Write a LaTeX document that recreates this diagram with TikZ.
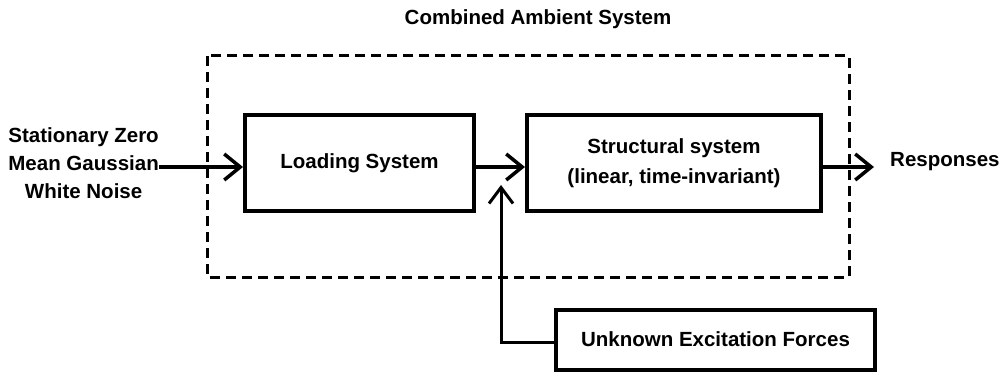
\documentclass[tikz,border=0pt]{standalone}
\usepackage{fontspec}
\setmainfont{Liberation Sans}
\usetikzlibrary{arrows.meta}
\newcommand{\uptext}[1]{\raisebox{3pt}{\begin{tabular}{@{}c@{}}#1\end{tabular}}}
\begin{document}
\begin{tikzpicture}[x=1pt,y=-1pt,
  lbl/.style={font=\fontsize{20.5}{28}\selectfont\bfseries, inner sep=0pt, align=center},
  blk/.style={draw, line width=4pt, inner sep=0pt, align=center,
    font=\fontsize{20.5}{30}\selectfont\bfseries},
  arr/.style={line width=3.5pt, -{Straight Barb[length=16pt,width=26pt,line width=3.5pt]}},
  conn/.style={line width=3pt, -{Straight Barb[length=16pt,width=24pt,line width=3pt]}},
  frame/.style={draw, line width=3pt, dash pattern=on 10pt off 6pt}]
\useasboundingbox (0,0) rectangle (1001,374);
% dashed frame
\draw[frame] (207,56) rectangle (849,277);
\node[lbl] (title) at (538,19) {Combined Ambient System};
% blocks
\node[blk, minimum width=229pt, minimum height=96pt] (load) at (359.5,163) {\uptext{Loading System}};
\node[blk, minimum width=294pt, minimum height=96pt] (struct) at (674,163)
  {\uptext{Structural system\\(linear, time-invariant)}};
\node[blk, minimum width=319pt, minimum height=60pt] (unk) at (715.5,340) {\uptext{Unknown Excitation Forces}};
% texts
\node[lbl, anchor=east] (noise) at (159,163) {Stationary Zero\\Mean Gaussian\\White Noise};
\node[lbl, anchor=west] (resp) at (890,162) {Responses};
% connectors
\coordinate (bend) at (501,342);
\coordinate (tipv) at (501,185);
\draw[arr] (noise.east |- 0,167) -- ([yshift=-4pt]load.west);
\draw[arr] ([yshift=-4pt]load.east) -- ([yshift=-4pt]struct.west);
\coordinate (respin) at (874,167);
\draw[arr] ([yshift=-4pt]struct.east) -- (respin);
\draw[conn] (unk.west |- bend) -- (bend) -- (tipv);
\end{tikzpicture}
\end{document}
